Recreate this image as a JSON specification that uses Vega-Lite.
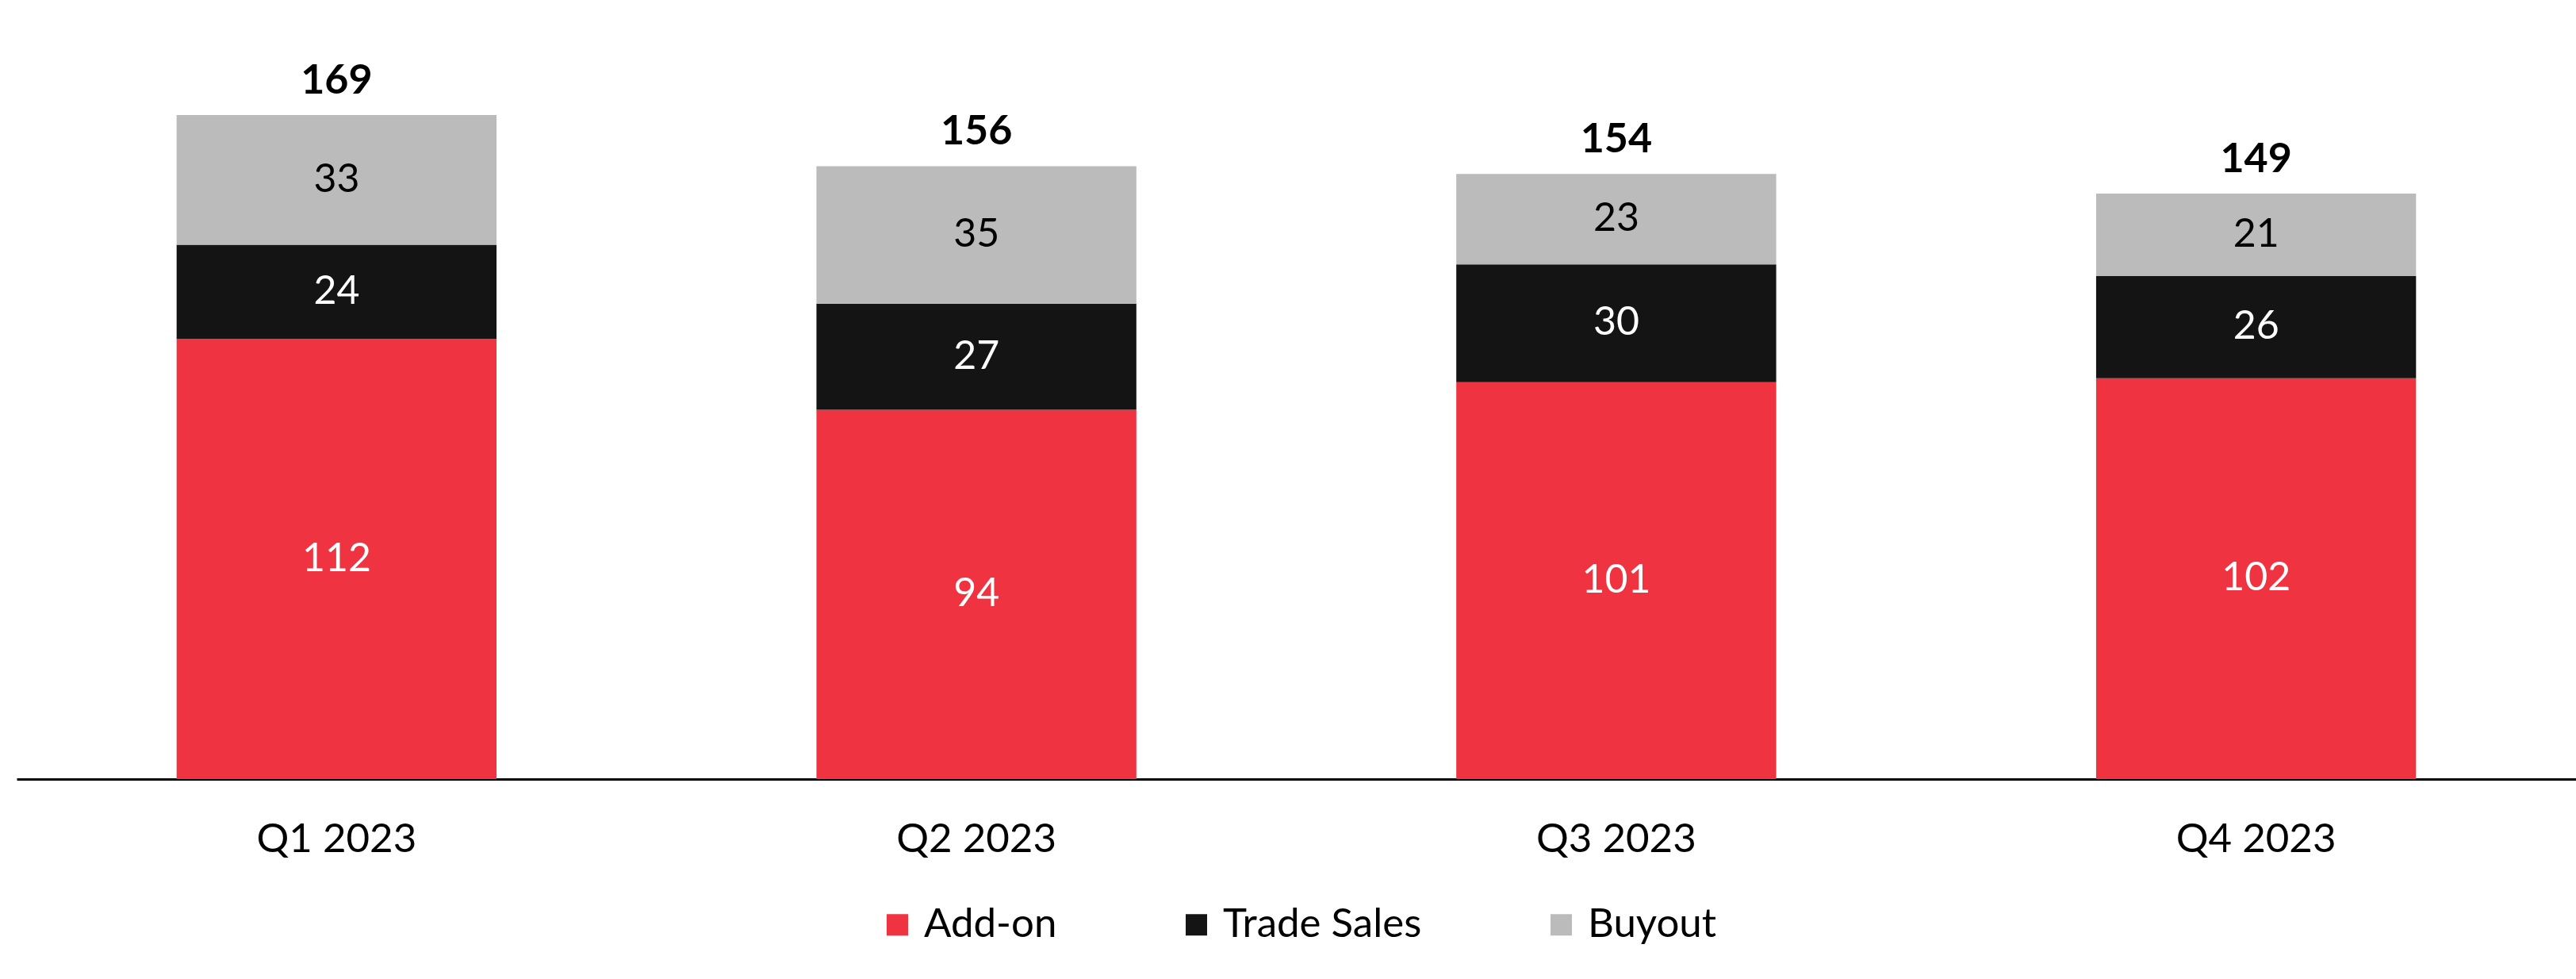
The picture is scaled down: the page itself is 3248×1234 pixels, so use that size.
{
  "$schema": "https://vega.github.io/schema/vega-lite/v6.json",
  "width": 3227,
  "height": 941,
  "autosize": {"type": "none"},
  "padding": {"left": 21, "right": 0, "top": 41, "bottom": 252},
  "background": "white",
  "config": {
    "view": {"stroke": null},
    "font": "Lato",
    "text": {"font": "Lato"}
  },
  "data": {
    "values": [
      {"quarter": "Q1 2023", "type": "Add-on", "value": 112},
      {"quarter": "Q1 2023", "type": "Trade Sales", "value": 24},
      {"quarter": "Q1 2023", "type": "Buyout", "value": 33},
      {"quarter": "Q2 2023", "type": "Add-on", "value": 94},
      {"quarter": "Q2 2023", "type": "Trade Sales", "value": 27},
      {"quarter": "Q2 2023", "type": "Buyout", "value": 35},
      {"quarter": "Q3 2023", "type": "Add-on", "value": 101},
      {"quarter": "Q3 2023", "type": "Trade Sales", "value": 30},
      {"quarter": "Q3 2023", "type": "Buyout", "value": 23},
      {"quarter": "Q4 2023", "type": "Add-on", "value": 102},
      {"quarter": "Q4 2023", "type": "Trade Sales", "value": 26},
      {"quarter": "Q4 2023", "type": "Buyout", "value": 21}
    ]
  },
  "transform": [
    {"calculate": "indexof(['Add-on','Trade Sales','Buyout'], datum.type)", "as": "ord"},
    {"stack": "value", "groupby": ["quarter"], "sort": [{"field": "ord", "order": "ascending"}], "as": ["v0", "v1"]},
    {"calculate": "(datum.v0 + datum.v1) / 2", "as": "mid"}
  ],
  "encoding": {
    "x": {
      "field": "quarter",
      "type": "nominal",
      "sort": null,
      "scale": {"paddingInner": 0.5, "paddingOuter": 0.25},
      "axis": {
        "title": null,
        "labelAngle": 0,
        "ticks": false,
        "domainColor": "#000000",
        "domainWidth": 3,
        "labelFont": "Lato",
        "labelFontSize": 51,
        "labelColor": "#000000",
        "labelPadding": 51,
        "labelLimit": 0
      }
    }
  },
  "layer": [
    {
      "mark": {"type": "bar"},
      "encoding": {
        "y": {"field": "v1", "type": "quantitative", "scale": {"domain": [0, 190], "nice": false}, "axis": null},
        "y2": {"field": "v0"},
        "color": {
          "field": "type",
          "type": "nominal",
          "scale": {"domain": ["Add-on", "Trade Sales", "Buyout"], "range": ["#EF3340", "#141414", "#BBBBBB"]},
          "legend": {
            "title": null,
            "orient": "none",
            "direction": "horizontal",
            "legendX": 1085,
            "legendY": 1099,
            "symbolType": "square",
            "symbolSize": 729,
            "symbolStrokeWidth": 0,
            "labelFont": "Lato",
            "labelFontSize": 51,
            "labelColor": "#000000",
            "labelOffset": 8,
            "labelLimit": 0,
            "columnPadding": 150
          }
        }
      }
    },
    {
      "mark": {"type": "text", "font": "Lato", "fontSize": 50, "baseline": "middle", "align": "center"},
      "encoding": {
        "y": {"field": "mid", "type": "quantitative"},
        "text": {"field": "value", "type": "quantitative"},
        "color": {"condition": {"test": "datum.type === 'Buyout'", "value": "#000000"}, "value": "#FFFFFF"}
      }
    },
    {
      "transform": [{"aggregate": [{"op": "sum", "field": "value", "as": "total"}], "groupby": ["quarter"]}],
      "mark": {"type": "text", "font": "Lato", "fontSize": 52, "fontWeight": "bold", "baseline": "bottom", "align": "center", "dy": -16, "color": "#000000"},
      "encoding": {
        "y": {"field": "total", "type": "quantitative"},
        "text": {"field": "total", "type": "quantitative"}
      }
    }
  ]
}
